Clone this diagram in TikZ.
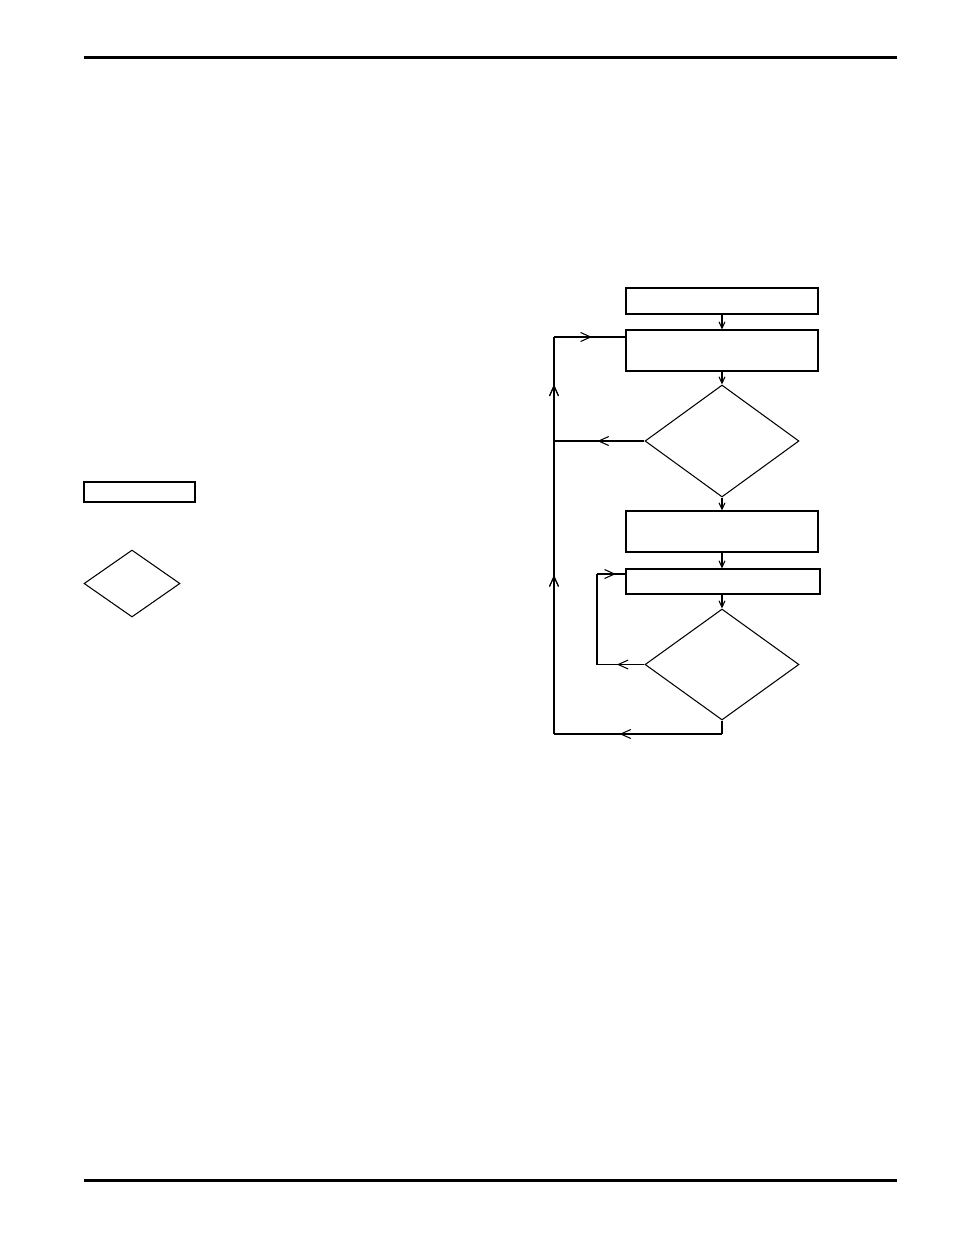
\documentclass[tikz,border=0pt]{standalone}
\usepackage{tikz}
\usetikzlibrary{shapes.geometric,arrows.meta,decorations.markings}

\begin{document}
\begin{tikzpicture}[x=0.02cm, y=-0.02cm, line width=0.6pt]
    % Define styles
    \tikzstyle{stepbox} = [rectangle, draw, inner sep=0pt, minimum width=3.84cm, minimum height=0.82cm]
    \tikzstyle{decision} = [diamond, draw, inner sep=0pt, minimum width=3.08cm, minimum height=2.24cm]
    \tikzstyle{flow} = [-{Straight Barb[length=1.3mm, width=1.2mm]}]
    \tikzstyle{midflow} = [postaction={decorate}, decoration={markings, mark=at position #1 with {\arrow{Straight Barb[length=2mm, width=1.8mm]}}}]
    \tikzstyle{rule} = [line width=1.7pt]

    \useasboundingbox (0,0) rectangle (954,1235);

    % Page rules
    \coordinate (ruletl) at (84,57);
    \coordinate (ruletr) at (897,57);
    \coordinate (rulebl) at (84,1180);
    \coordinate (rulebr) at (897,1180);
    \draw [rule] (ruletl) -- (ruletr);
    \draw [rule] (rulebl) -- (rulebr);

    % Legend
    \node [stepbox, minimum width=2.22cm, minimum height=0.40cm] (legbox) at (139.5,492) {};
    \node [decision, minimum width=1.92cm, minimum height=1.34cm] (legdiam) at (132,583.5) {};

    % Flow chart
    \node [stepbox, minimum height=0.52cm] (start) at (722,301) {};
    \node [stepbox] (init) at (722,350.5) {};
    \node [decision] (check1) at (722,441) {};
    \node [stepbox] (prep) at (722,531.5) {};
    \node [stepbox, minimum width=3.88cm, minimum height=0.50cm] (work) at (723,581.5) {};
    \node [decision, minimum height=2.22cm] (check2) at (722,664.5) {};

    % Straight arrows
    \draw [flow] (start) -- (init);
    \draw [flow] (init) -- (check1);
    \draw [flow] (check1) -- (prep);
    \draw [flow] (prep.south) -- (prep.south |- work.north);
    \draw [flow] (work.south -| check2.north) -- (check2.north);

    % Outer loop
    \coordinate (outbot) at (722,734);
    \coordinate (lbot) at (554,734);
    \coordinate (ltop) at (554,337);
    \coordinate (entry) at (init.west |- ltop);
    \coordinate (side1) at (ltop |- check1.west);
    \draw (check2.south) -- (outbot);
    \draw [midflow=0.61] (outbot) -- (lbot);
    \draw [midflow=0.40, midflow=0.88] (lbot) -- (ltop);
    \draw [midflow=0.53] (ltop) -- (entry);
    \draw [midflow=0.52] (check1.west) -- (side1);

    % Inner loop
    \coordinate (ibot) at (597,664.5);
    \coordinate (itop) at (597,574);
    \coordinate (ientry) at (work.west |- itop);
    \draw [midflow=0.58] (check2.west) -- (ibot);
    \draw (ibot) -- (itop);
    \draw [midflow=0.66] (itop) -- (ientry);
\end{tikzpicture}
\end{document}
